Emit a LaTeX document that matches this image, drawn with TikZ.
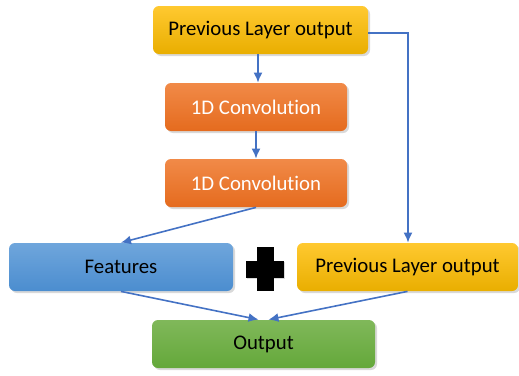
\documentclass[tikz,border=0pt]{standalone}
\usepackage{fontspec}
\setmainfont[Ligatures=NoCommon]{Carlito}
\usetikzlibrary{shadows,arrows.meta}

\definecolor{goldtop}{HTML}{FFC930}
\definecolor{goldbot}{HTML}{E9AE00}
\definecolor{orangetop}{HTML}{F18A48}
\definecolor{orangebot}{HTML}{E56B1E}
\definecolor{bluetop}{HTML}{6FA6DC}
\definecolor{bluebot}{HTML}{4B8DCF}
\definecolor{greentop}{HTML}{80B85A}
\definecolor{greenbot}{HTML}{64A83A}
\definecolor{arrowblue}{HTML}{4472C4}

\begin{document}
\begin{tikzpicture}[
    x=0.5pt, y=-0.5pt,
    block/.style={rounded corners=3pt, minimum height=24pt, inner sep=0pt,
        font=\fontsize{10.4}{12}\selectfont,
        drop shadow={shadow xshift=1pt, shadow yshift=-1pt, opacity=0.3}},
    gold/.style={block, top color=goldtop, bottom color=goldbot, text=black},
    orangebox/.style={block, top color=orangetop, bottom color=orangebot, text=white},
    bluebox/.style={block, top color=bluetop, bottom color=bluebot, text=black},
    greenbox/.style={block, top color=greentop, bottom color=greenbot, text=black},
    link/.style={draw=arrowblue, line width=0.8pt, -{Latex[length=5pt,width=4.5pt]}}
]

% Ramka obrazu
\useasboundingbox (0,0) rectangle (519,375);

% Bloki glowne
\node[gold, minimum width=107.5pt] (prev) at (260.5,30) {Previous Layer output};
\node[orangebox, minimum width=91pt] (conv1) at (256,107) {1D Convolution};
\node[orangebox, minimum width=91pt] (conv2) at (256,183) {1D Convolution};
\node[bluebox, minimum width=112pt] (feat) at (121,267) {Features};
\node[gold, minimum width=110.5pt] (prev2) at (407.5,267) {Previous Layer output};
\node[greenbox, minimum width=111.5pt] (out) at (263.5,344) {Output};

% Znak dodawania
\node[fill=black, minimum width=19pt, minimum height=8.5pt, inner sep=0pt,
    drop shadow={shadow xshift=0.5pt, shadow yshift=-0.5pt, opacity=0.3}] (plush) at (265,269) {};
\node[fill=black, minimum width=8.5pt, minimum height=22pt, inner sep=0pt] (plusv) at (265,269) {};

% Polaczenia
\coordinate (corner) at (408,33);
\draw[link] (prev.south -| 258,0) -- (conv1.north -| 258,0);
\draw[link] (conv1) -- (conv2);
\draw[link] (conv2.south) -- (feat.north);
\draw[link] (prev.east |- corner) -- (corner) -- (prev2.north -| corner);
\draw[link] (feat.south) -- ([xshift=-2.5pt]out.north);
\draw[link] (prev2.south) -- ([xshift=2.5pt]out.north);

\end{tikzpicture}
\end{document}
